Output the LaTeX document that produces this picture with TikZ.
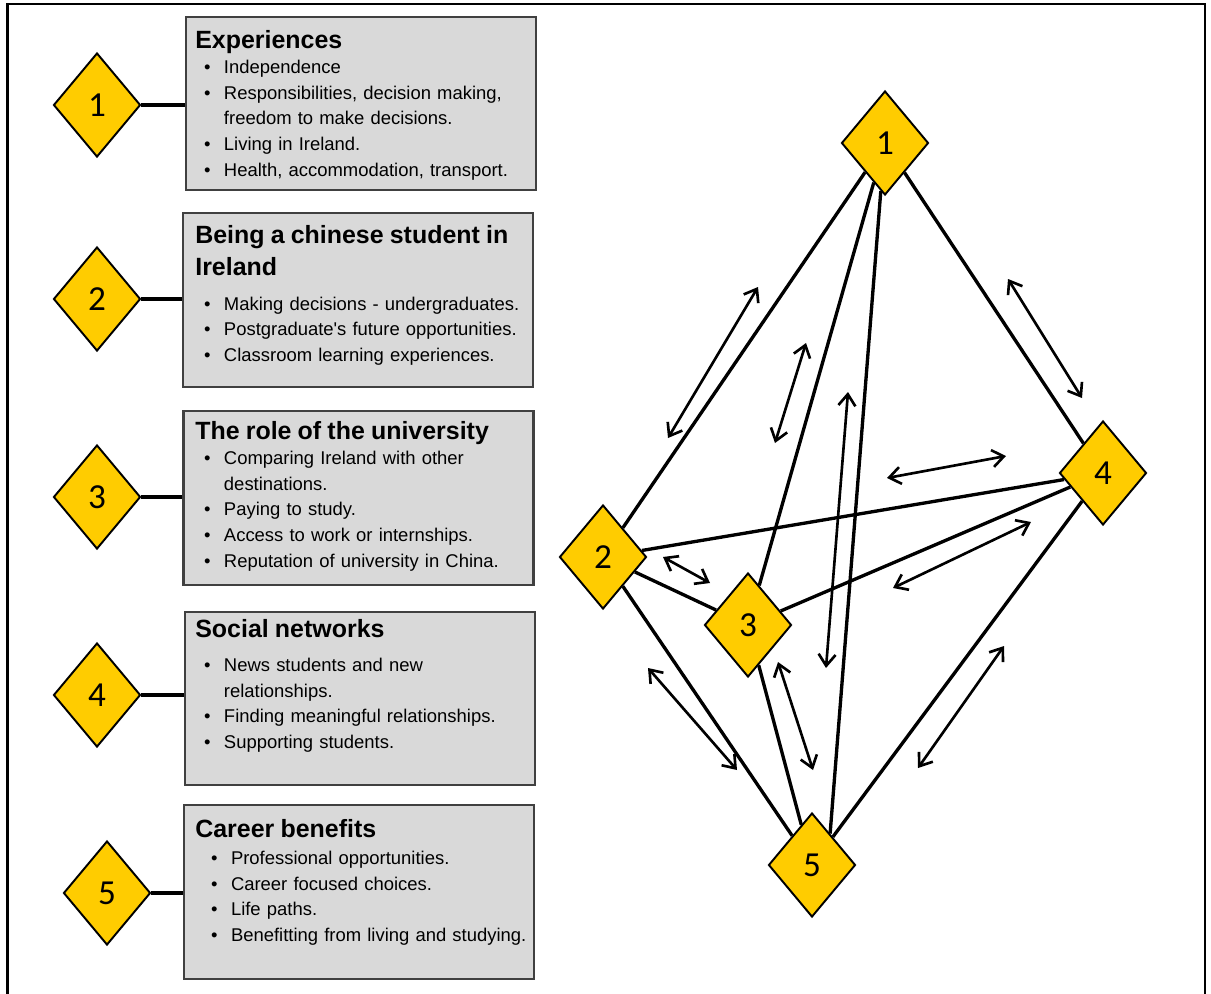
\documentclass[tikz,border=0pt]{standalone}
\usepackage{fontspec}
\setmainfont{Liberation Sans}
\newfontfamily\themeNumFont{Carlito}
\usetikzlibrary{shapes.geometric,arrows.meta}

\definecolor{themeYellow}{RGB}{255,204,0}
\definecolor{themeGray}{RGB}{217,217,217}
\definecolor{themeBorder}{RGB}{64,64,64}

\newcommand\themeTitle{\fontsize{14.2}{18.7}\selectfont\bfseries}
\newcommand\themeBullet{\hspace*{5pt}\makebox[11.3pt][l]{\textbullet}}
\newcommand\themeIndent{\hspace*{16.3pt}}

\begin{document}
\begin{tikzpicture}[x=0.02cm,y=-0.02cm,
      theme/.style={diamond, draw=black, fill=themeYellow, line width=1.1pt,
        inner sep=0pt, minimum width=1.74cm, minimum height=2.08cm,
        font=\fontsize{20}{20}\selectfont\themeNumFont},
      card/.style={draw=themeBorder, fill=themeGray, line width=1.2pt,
        minimum width=7cm, minimum height=3.47cm, inner sep=0pt},
      blurb/.style={anchor=base west, inner sep=0pt, text width=6.9cm,
        align=left, font=\fontsize{10.5}{14.6}\selectfont},
      link/.style={line width=2pt},
      edge/.style={line width=1.9pt},
      twoway/.style={line width=1.5pt,
        {Straight Barb[length=2.3mm,width=3.4mm]}-{Straight Barb[length=2.3mm,width=3.4mm]}}]
      \useasboundingbox (0,0) rectangle (1211,994);
      \fill[white] (0,0) rectangle (1211,994);
      \draw[black, line width=1.5pt] (7.5,994) -- (7.5,4) -- (1205,4) -- (1205,994);

      % themes on the left
      \node[card] (box1) at (361,103.5) {};
      \node[card] (box2) at (358,300) {};
      \node[card] (box3) at (358.5,498) {};
      \node[card] (box4) at (360,698.5) {};
      \node[card] (box5) at (359,892) {};

      \node[theme] (d1) at (97,105) {1};
      \node[theme] (d2) at (97,299) {2};
      \node[theme] (d3) at (97,497) {3};
      \node[theme] (d4) at (97,695) {4};
      \node[theme] (d5) at (107,893) {5};

      \foreach \i in {1,...,5}
        \draw[link] (d\i.east) -- (d\i.east -| box\i.west);

      \node[blurb] (txt1) at (195,48) {{\themeTitle Experiences}\\
        \themeBullet Independence\\
        \themeBullet Responsibilities, decision making,\\
        \themeIndent freedom to make decisions.\\
        \themeBullet Living in Ireland.\\
        \themeBullet Health, accommodation, transport.};
      \node[blurb] (txt2) at (195,243) {{\themeTitle Being a chinese student in\\[4pt]
        Ireland}\\[5pt]
        \themeBullet Making decisions - undergraduates.\\
        \themeBullet Postgraduate\textquotesingle s future opportunities.\\
        \themeBullet Classroom learning experiences.};
      \node[blurb] (txt3) at (195,439) {{\themeTitle The role of the university}\\
        \themeBullet Comparing Ireland with other\\
        \themeIndent destinations.\\
        \themeBullet Paying to study.\\
        \themeBullet Access to work or internships.\\
        \themeBullet Reputation of university in China.};
      \node[blurb] (txt4) at (195,637) {{\themeTitle Social networks}\\[5pt]
        \themeBullet News students and new\\
        \themeIndent relationships.\\
        \themeBullet Finding meaningful relationships.\\
        \themeBullet Supporting students.};
      \node[blurb] (txt5) at (195,837) {{\themeTitle Career benefits}\\[1pt]
        \hspace*{4pt}\themeBullet Professional opportunities.\\
        \hspace*{4pt}\themeBullet Career focused choices.\\
        \hspace*{4pt}\themeBullet Life paths.\\
        \hspace*{4pt}\themeBullet Benefitting from living and studying.};

      % network on the right
      \node[theme] (r1) at (885,143) {1};
      \node[theme] (r2) at (603,557) {2};
      \node[theme] (r3) at (748,625) {3};
      \node[theme] (r4) at (1103,473) {4};
      \node[theme] (r5) at (812,865) {5};

      \foreach \a/\b in {1/2,1/3,1/4,2/4,2/3,2/5,3/4,3/5,4/5}
        \draw[edge] (r\a) -- (r\b);
      \draw[edge] (r1.265) -- (r5.60);

      \foreach \nm/\ax/\ay/\bx/\by in {12/668/438/758/287, 13/775/443/806/343,
          15/826/668/848/392, 14/1008/279/1082/398, 24/887/478/1006/456,
          34/893/588/1031/522, 23/663/557/710/583, 25/648/668/737/770,
          35/778/662/813/770, 45/918/768/1004/646} {
        \coordinate (a\nm s) at (\ax,\ay);
        \coordinate (a\nm e) at (\bx,\by);
        \draw[twoway] (a\nm s) -- (a\nm e);
      }
    \end{tikzpicture}
\end{document}
